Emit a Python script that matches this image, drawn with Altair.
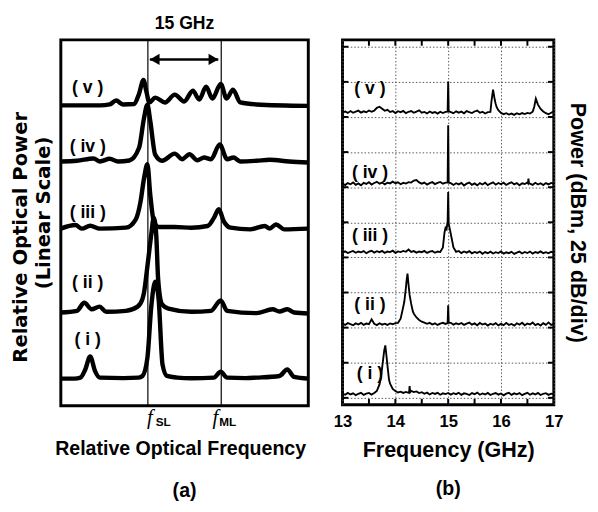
import altair as alt
import pandas as pd

SANS = "Liberation Sans"
WIDE = "DejaVu Sans"
SERIF = "Liberation Serif"

trace_names = ["i", "ii", "iii", "iv", "v"]
trace_labels = ["( i )", "( ii )", "( iii )", "( iv )", "( v )"]

# ---------------- Panel (a): optical spectra (frequency relative to f_SL, GHz) ----------------
a_baseline = [27.7, 95.3, 181.0, 249.7, 307.0]
a_label_x = [-12.3, -12.3, -12.3, -12.3, -12.3]
a_label_y = [67, 125, 197, 264, 325]
a_ytitle = ["Relative Optical Power", "(Linear Scale)"]

a_i_x = [-17.8, -15.0, -13.8, -12.8, -11.8, -10.8, -9.8, -5.0, -1.9, -1.1, -0.1, 0.7, 1.5, 2.2, 3.0, 3.9,
         6.0, 8.9, 13.5, 14.9, 16.2, 20.0, 22.2, 26.9, 28.5, 29.9, 32.8]
a_i_amp = [0, 0, 1, 9.3, 22.7, 7.7, 1, 0.5, 1, 2.7, 21, 74, 99, 81, 14.3, 2.7,
           1, 0.3, 1, 7, 1, 0.5, 1, 2.7, 9.3, 1.7, 0]
a_ii_x = [-17.8, -14.5, -13.0, -11.5, -9.9, -8.5, -4.5, -2.1, -1.1, -0.8, -0.1, 0.7, 1.2, 1.7, 2.1, 2.9,
          4.2, 8.9, 12.9, 14.9, 16.2, 22.2, 25.5, 26.9, 28.5, 29.9, 32.8]
a_ii_amp = [0, 1.7, 10, 3.3, 6, 0.7, 1.7, 6, 14, 20, 47, 80, 97, 80, 34, 8.3,
            4, 0.7, 1.7, 12.3, 1.7, -0.7, 3.3, 1, 3.3, 0, -1]
a_iii_x = [-17.8, -14.8, -13.5, -11.8, -9.8, -4.5, -2.5, -1.5, -0.8, -0.1, 0.5, 1.2, 2.2, 5.5, 8.9,
           12.2, 13.5, 14.5, 15.5, 16.9, 20.9, 23.9, 24.9, 26.2, 27.9, 32.8]
a_iii_amp = [0, 3.7, 0, 3, 0, 1, 9.3, 27.7, 51, 66, 34, 7.7, 1.7, 1.7, 1,
             2.7, 11, 20, 7.7, 1, -0.7, 2.7, 0, 4.3, -0.7, 0]
a_iv_x = [-17.8, -14.5, -11.1, -9.8, -7.8, -6.1, -3.8, -1.8, -0.8, -0.1, 0.5, 1.5, 2.9, 5.5, 7.0, 8.5,
          10.1, 11.5, 12.9, 14.7, 16.2, 17.5, 18.9, 22.2, 24.9, 28.9, 32.8]
a_iv_amp = [0, 0.7, 3, 0, 2.7, 0, 1, 14, 44, 58, 41, 7, 0.7, 8, 2.3, 7.3,
            1.3, 4, 2.3, 17.3, 2.3, 4, 0, 0.7, 1.7, 0, -1]
a_v_x = [-17.8, -9.8, -7.8, -6.5, -5.1, -2.8, -1.8, -0.9, -0.3, 0.3, 1.5, 3.5, 5.5, 7.4, 9.2, 10.5,
         11.9, 13.2, 14.9, 16.1, 17.4, 18.9, 22.2, 32.8]
a_v_amp = [0, 0, 1, 5, 1, 1.5, 12, 26, 14, 3, 8, 3, 11, 4, 15, 6,
           19, 7, 22, 7, 16, 3, 1, -0.5]

marker_freqs = [0, 15]
marker_subs = ["SL", "ML"]
arrow_tips = [0.4, 14.4]
span_text = "15 GHz"

# ---------------- Panel (b): RF spectra ----------------
b_freq = [13.00, 13.05, 13.10, 13.15, 13.20, 13.25, 13.30, 13.35, 13.40, 13.45,
          13.50, 13.55, 13.60, 13.65, 13.70, 13.75, 13.80, 13.85, 13.90, 13.95,
          14.00, 14.05, 14.10, 14.15, 14.20, 14.25, 14.30, 14.35, 14.40, 14.45,
          14.50, 14.55, 14.60, 14.65, 14.70, 14.75, 14.80, 14.85, 14.90, 14.95,
          15.00, 15.05, 15.10, 15.15, 15.20, 15.25, 15.30, 15.35, 15.40, 15.45,
          15.50, 15.55, 15.60, 15.65, 15.70, 15.75, 15.80, 15.85, 15.90, 15.95,
          16.00, 16.05, 16.10, 16.15, 16.20, 16.25, 16.30, 16.35, 16.40, 16.45,
          16.50, 16.55, 16.60, 16.65, 16.70, 16.75, 16.80, 16.85, 16.90, 16.95,
          17.00]
b_i_db = [0.5, -0.4, 0.9, -0.2, 0.6, -0.7, 0.3, 1.0, -0.5, 0.4,
          0.9, -0.3, 0.8, 2.3, 7.0, 19.0, 33.0, 20.5, 7.5, 3.8,
          2.2, 1.2, 1.8, 0.9, 1.6, 1.0, 2.4, 1.5, 2.0, 0.8,
          1.4, 0.3, 1.1, -0.2, 0.9, 0.2, 1.0, -0.4, 0.6, 0.1,
          0.9, -0.3, 0.7, 0.0, 1.0, -0.5, 0.6, 0.2, -0.6, 0.8,
          0.0, 1.1, -0.4, 0.5, -0.2, 0.9, -0.6, 0.3, 0.8, -0.3,
          0.5, -0.8, 0.4, 1.0, -0.5, 0.6, -0.1, 0.8, -0.7, 0.2,
          1.0, -0.4, 0.6, -0.2, 0.9, -0.6, 0.3, 0.7, -0.5, 0.4,
          0.0]
b_ii_db = [0.4, -0.5, 0.8, 0.1, -0.7, 0.6, -0.2, 1.0, -0.4, 0.5,
           0.0, 3.5, 0.3, -0.6, 0.7, -0.3, 0.4, -0.5, 0.6, 0.0,
           0.8, 1.0, 4.0, 12.5, 26.0, 28.0, 14.5, 7.5, 4.8, 3.0,
           1.8, 1.2, 0.3, 1.0, -0.2, 0.6, -0.5, 0.4, 1.0, 0.2,
           13.5, 1.0, -0.3, 0.7, 0.0, 0.9, -0.4, 0.5, 1.2, -0.3,
           0.6, -0.7, 0.9, -0.2, 0.5, -0.9, 0.4, -0.4, 0.8, -0.8,
           0.3, -0.6, 1.0, -0.5, 0.2, -1.0, 0.7, -0.3, 1.1, -0.7,
           0.5, -0.2, 1.2, -0.6, 0.3, -0.9, 0.8, -0.4, 1.3, -0.5,
           0.2]
b_iii_db = [-0.2, 0.7, -0.5, 0.4, 1.0, -0.3, 0.6, 0.0, 0.9, -0.6,
            0.5, 1.1, -0.2, 0.8, 0.1, 1.0, -0.4, 0.6, 0.2, 1.2,
            -0.3, 0.7, 0.2, 1.0, 0.4, 2.0, 0.3, 0.9, -0.2, 0.6,
            0.1, 1.0, -0.4, 0.5, 0.9, -0.3, 0.6, 0.2, 3.5, 17.4,
            42.9, 13.0, 3.5, 0.4, 1.0, -0.5, 0.6, -0.2, 0.8, -0.7,
            0.3, -0.4, 0.6, -1.0, 0.2, -0.6, 0.5, -0.8, 0.1, -0.5,
            0.7, -0.9, 0.0, -0.6, 0.4, -1.1, -0.2, 0.5, -0.8, 0.3,
            -0.5, 0.6, -0.9, 0.2, -0.4, 0.7, -0.6, 0.1, -0.7, 0.4,
            -0.2]
b_iv_db = [0.3, -0.8, 0.6, -0.2, 1.1, -0.6, 0.4, -1.0, 0.8, 0.0,
           1.2, -0.4, 0.7, 1.5, 0.2, 1.0, -0.3, 0.9, 0.4, 1.6,
           0.5, 1.2, -0.2, 0.8, 0.3, 1.3, 1.0, 2.4, 2.8, 1.1,
           0.2, 1.0, -0.5, 0.6, 1.3, -0.1, 0.7, 1.4, 0.2, 1.0,
           41.8, 0.6, -0.7, 0.5, -0.3, 0.8, -1.1, 0.2, 1.0, -0.6,
           0.4, -1.0, 0.6, -0.4, 0.9, -0.8, 0.3, 1.1, -0.5, 0.7,
           -0.2, 0.9, -0.7, 0.4, 1.2, -0.3, 0.6, -0.9, 0.5, 0.0,
           1.0, 0.3, -0.6, 0.8, -0.4, 0.5, -0.8, 0.6, -0.3, 0.7,
           0.1]
b_v_db = [0.0, 0.6, -0.4, 0.9, -0.3, 0.5, 1.2, -0.2, 0.7, 0.1,
          1.3, 0.4, 1.2, 3.2, 4.0, 2.6, 1.1, 1.8, 0.2, 0.9,
          -0.5, 0.8, 0.1, 1.0, -0.6, 0.4, 0.9, -0.3, 0.5, 1.4,
          -0.2, 0.3, -0.8, 0.6, -0.4, 0.2, -0.9, 0.4, -0.5, 0.3,
          22.0, 0.2, -0.6, 0.7, -0.2, 0.5, -0.7, 0.9, 0.1, -0.5,
          0.6, 1.3, -0.3, 0.4, -0.8, 0.2, 0.3, 16.2, 6.0, 1.5,
          -0.4, -1.3, -0.6, -1.6, -0.9, -1.8, -0.7, -1.4, -0.5, -1.2,
          -0.4, -0.9, 0.5, 8.0, 5.5, 2.4, 0.6, -0.6, -1.4, -0.3,
          0.8]
# extra points resolving the narrow lines
b_i_xf = [13.72, 13.76, 13.79, 13.81, 13.84, 13.88, 14.26, 14.27, 14.28]
b_i_xd = [10.4, 22.0, 31.3, 34.8, 24.4, 10.4, 1.2, 5.8, 1.5]
b_ii_xf = [14.17, 14.21, 14.23, 14.27, 14.33, 14.99, 15.01]
b_ii_xd = [16.2, 30.2, 36.0, 20.9, 9.3, 0.8, 1.1]
b_iii_xf = [14.93, 14.97, 14.99, 15.01, 15.02, 15.04, 15.07]
b_iii_xd = [14.0, 16.5, 22.0, 20.5, 18.6, 15.0, 9.3]
b_iv_xf = [14.99, 15.01, 16.51, 16.52, 16.53]
b_iv_xd = [1.1, 0.9, 0.5, 3.8, 0.4]
b_v_xf = [14.99, 15.01, 15.82, 15.88, 15.92, 16.63, 16.66]
b_v_xd = [0.5, 0.8, 8.0, 9.3, 3.5, 4.0, 9.7]

b_baseline_db = [2.6, 52.4, 103.6, 152.3, 203.3]
b_label_x = [13.52, 13.52, 13.52, 13.52, 13.52]
b_label_y = [17.1, 66.2, 114.9, 160.2, 220.0]
grid_db = [0, 25, 50, 75, 100, 125, 150, 175, 200, 225, 250]
freq_ticks = [13, 14, 15, 16, 17]
minor_ticks = [13.5, 14, 14.5, 15, 15.5, 16, 16.5]

# ---------------- data frames ----------------
a_x = [a_i_x, a_ii_x, a_iii_x, a_iv_x, a_v_x]
a_amp = [a_i_amp, a_ii_amp, a_iii_amp, a_iv_amp, a_v_amp]
rows = []
for name, base, xs, amps in zip(trace_names, a_baseline, a_x, a_amp):
    for x, v in zip(xs, amps):
        rows.append({"trace": name, "freq": x, "power": base + v})
df_a = pd.DataFrame(rows)
df_a_lab = pd.DataFrame({"label": trace_labels, "freq": a_label_x, "power": a_label_y})

b_db = [b_i_db, b_ii_db, b_iii_db, b_iv_db, b_v_db]
b_xf = [b_i_xf, b_ii_xf, b_iii_xf, b_iv_xf, b_v_xf]
b_xd = [b_i_xd, b_ii_xd, b_iii_xd, b_iv_xd, b_v_xd]
rows = []
for name, base, lv, xf, xd in zip(trace_names, b_baseline_db, b_db, b_xf, b_xd):
    for f, v in list(zip(b_freq, lv)) + list(zip(xf, xd)):
        rows.append({"trace": name, "freq": f, "power": base + v})
df_b = pd.DataFrame(rows).sort_values(["trace", "freq"])
df_b_lab = pd.DataFrame({"label": trace_labels, "freq": b_label_x, "power": b_label_y})

# ---------------- panel (a) ----------------
WA, HA = 253, 374
XA = alt.Scale(domain=[-17.8, 32.8], nice=False, zero=False)
YA = alt.Scale(domain=[0, 374], nice=False, zero=False)
AX_AX = alt.Axis(
    title="Relative Optical Frequency", labels=False, ticks=False, domain=False, grid=False,
    titleFont=SANS, titleFontSize=20, titleFontWeight="bold", titleColor="black", titlePadding=34,
    titleX=122)


def xa(field):
    return alt.X(field, type="quantitative", scale=XA, axis=AX_AX)


def ya(field):
    return alt.Y(field, type="quantitative", scale=YA, axis=None)


a_lines = alt.Chart(df_a).mark_line(
    color="black", strokeWidth=4.5, interpolate="monotone", strokeJoin="round"
).encode(x=xa("freq"), y=ya("power"), detail="trace:N")

df_mark = pd.DataFrame({"freq": marker_freqs, "sub": marker_subs})
a_markers = alt.Chart(df_mark).mark_rule(color="black", strokeWidth=1.2).encode(x=xa("freq"))

df_arrow = pd.DataFrame({"freq": [arrow_tips[0]], "freq2": [arrow_tips[1]]})
a_arrow = alt.Chart(df_arrow).mark_rule(color="black", strokeWidth=2.5).encode(
    x=xa("freq"), x2="freq2:Q", y=alt.value(20)
)
a_head_l = alt.Chart(df_arrow).mark_point(
    shape="triangle-left", filled=True, size=130, color="black", opacity=1, xOffset=5
).encode(x=xa("freq"), y=alt.value(20))
a_head_r = alt.Chart(df_arrow).mark_point(
    shape="triangle-right", filled=True, size=130, color="black", opacity=1, xOffset=-5
).encode(x=xa("freq2"), y=alt.value(20))

df_span = pd.DataFrame({"freq": [sum(marker_freqs) / 2], "t": [span_text]})
a_span = alt.Chart(df_span).mark_text(
    font=SANS, fontSize=18, fontWeight="bold", color="black", baseline="middle"
).encode(x=xa("freq"), y=alt.value(-16), text="t:N")

f_dx = [2, -6]
sub_dx = [8, -2]
a_flabels = []
for i in range(len(marker_freqs)):
    d = df_mark.iloc[[i]]
    a_flabels.append(alt.Chart(d).mark_text(
        font=SERIF, fontStyle="italic", fontSize=21, color="black", align="center",
        baseline="alphabetic", dx=f_dx[i]
    ).encode(x=xa("freq"), y=alt.value(HA + 19), text=alt.value("f")))
    a_flabels.append(alt.Chart(d).mark_text(
        font=SANS, fontWeight="bold", fontSize=12, color="black", align="left",
        baseline="alphabetic", dx=sub_dx[i]
    ).encode(x=xa("freq"), y=alt.value(HA + 21), text="sub:N"))

# rotated two-line y title, each line anchored at its lower end
ytitle_x = [-35, -11]
ytitle_y = [330, 255]
a_ytitles = []
for i in range(len(a_ytitle)):
    a_ytitles.append(alt.Chart(df_span).mark_text(
        font=WIDE, fontSize=20, fontWeight="bold", color="black", angle=270,
        align="left", baseline="alphabetic"
    ).encode(x=alt.value(ytitle_x[i]), y=alt.value(ytitle_y[i]), text=alt.value(a_ytitle[i])))

a_labs = alt.Chart(df_a_lab).mark_text(
    font=SANS, fontSize=18, fontWeight="bold", color="black", baseline="middle"
).encode(x=xa("freq"), y=ya("power"), text="label:N")

panel_a = alt.layer(
    a_lines, a_markers, a_arrow, a_head_l, a_head_r, a_span, a_labs, *a_flabels, *a_ytitles
).properties(
    width=WA, height=HA,
    title=alt.TitleParams("(a)", orient="bottom", font=SANS, fontSize=20, fontWeight="bold",
                          color="black", offset=23, anchor="middle"),
)

# ---------------- panel (b) ----------------
WB, HB = 216, 373
XB = alt.Scale(domain=[13, 17], nice=False, zero=False)
YB = alt.Scale(domain=[-4.9, 254.9], nice=False, zero=False)
AX_BX = alt.Axis(
    values=freq_ticks, format="d", title="Frequency (GHz)", labelFont=SANS, labelFontSize=17,
    labelFontWeight="bold", labelColor="black", labelPadding=9, labelFlush=False, ticks=False,
    domain=False, grid=True, gridDash=[1.5, 2], gridColor="#555555", gridWidth=1,
    titleFont=SANS, titleFontSize=22, titleFontWeight="bold", titleColor="black", titlePadding=11)
AX_BY = alt.Axis(
    orient="right", values=grid_db, labels=False, ticks=False, domain=False, grid=True,
    gridDash=[1.5, 2], gridColor="#555555", gridWidth=1,
    title="Power (dBm, 25 dB/div)", titleAngle=90, titleFont=SANS, titleFontSize=22,
    titleFontWeight="bold", titleColor="black", titlePadding=12)


def xb(field):
    return alt.X(field, type="quantitative", scale=XB, axis=AX_BX)


def yb(field):
    return alt.Y(field, type="quantitative", scale=YB, axis=AX_BY)


b_lines = alt.Chart(df_b).mark_line(color="black", strokeWidth=1.9).encode(
    x=xb("freq"), y=yb("power"), detail="trace:N"
)

df_mt = pd.DataFrame({"freq": minor_ticks})
df_gt = pd.DataFrame({"power": grid_db})
b_tick_top = alt.Chart(df_mt).mark_rule(color="black", strokeWidth=2).encode(
    x=xb("freq"), y=alt.value(0), y2=alt.value(6))
b_tick_bot = alt.Chart(df_mt).mark_rule(color="black", strokeWidth=2).encode(
    x=xb("freq"), y=alt.value(HB - 6), y2=alt.value(HB))
b_tick_left = alt.Chart(df_gt).mark_rule(color="black", strokeWidth=2).encode(
    y=yb("power"), x=alt.value(0), x2=alt.value(6))
b_tick_right = alt.Chart(df_gt).mark_rule(color="black", strokeWidth=2).encode(
    y=yb("power"), x=alt.value(WB - 6), x2=alt.value(WB))

b_labs = alt.Chart(df_b_lab).mark_text(
    font=SANS, fontSize=18, fontWeight="bold", color="black", baseline="middle"
).encode(x=xb("freq"), y=yb("power"), text="label:N")

panel_b = alt.layer(
    b_lines, b_tick_top, b_tick_bot, b_tick_left, b_tick_right, b_labs
).properties(
    width=WB, height=HB,
    title=alt.TitleParams("(b)", orient="bottom", font=SANS, fontSize=20, fontWeight="bold",
                          color="black", offset=19, anchor="middle"),
)

chart = alt.hconcat(panel_a, panel_b, spacing=35, bounds="flush").properties(
    padding={"left": 1, "top": 0, "right": 0, "bottom": 0},
    background="white",
).configure_view(stroke="black", strokeWidth=3)

chart.save("out.html", embed_options={"renderer": "svg", "actions": False})
